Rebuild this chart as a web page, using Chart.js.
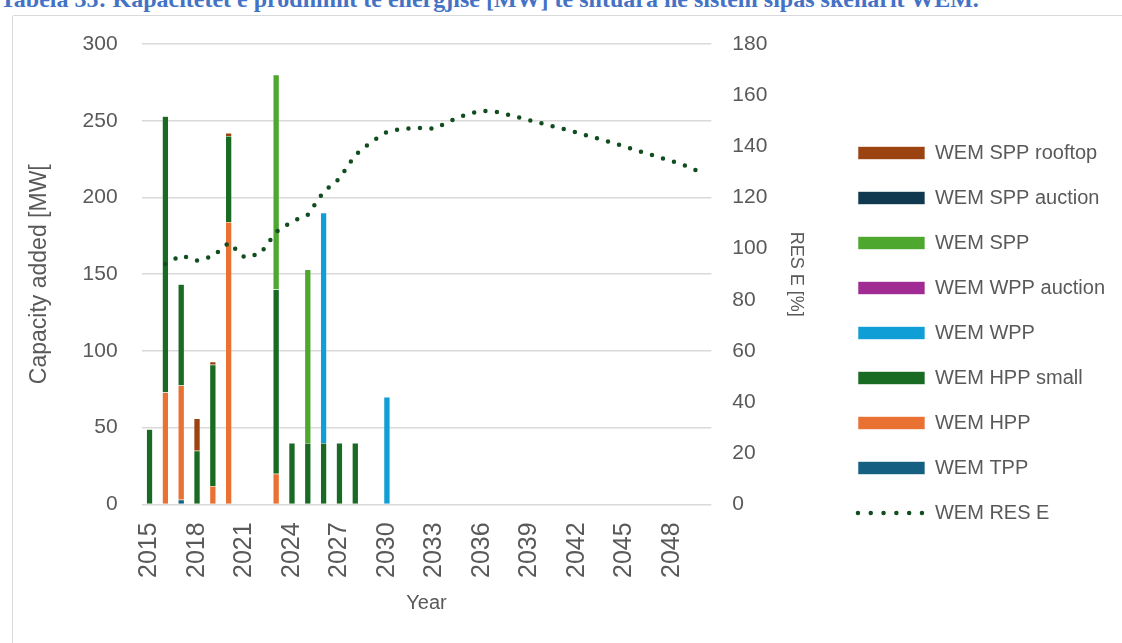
<!DOCTYPE html>
<html>
<head>
<meta charset="utf-8">
<script src="https://cdn.jsdelivr.net/npm/chart.js@4.4.1/dist/chart.umd.min.js"></script>
<style>
  html, body { margin: 0; padding: 0; background: #fff; }
  #page { position: relative; width: 1122px; height: 643px; overflow: hidden; }
  #caption {
    position: absolute; left: 0; top: -14px; white-space: nowrap; line-height: 24px;
    font: bold 24px 'Liberation Serif', serif; color: #4472c4;
  }
  #frame {
    position: absolute; left: 12px; top: 15px; width: 1120px; height: 640px;
    border: 1.5px solid #d9d9d9; border-radius: 2px;
  }
  #wrap { position: absolute; left: 0; top: 0; width: 1122px; height: 643px; }
</style>
</head>
<body>
<div id="page">
  <div id="caption">Tabela 35: Kapacitetet e prodhimit të energjisë [MW] të shtuara në sistem sipas skenarit WEM.</div>
  <div id="frame"></div>
  <div id="wrap"><canvas id="chart"></canvas></div>
</div>
<script>
// --- Data ---

const years = [
  '2015', '2016', '2017', '2018', '2019', '2020', '2021', '2022', '2023', '2024', '2025', '2026',
  '2027', '2028', '2029', '2030', '2031', '2032', '2033', '2034', '2035', '2036', '2037', '2038',
  '2039', '2040', '2041', '2042', '2043', '2044', '2045', '2046', '2047', '2048', '2049', '2050'
];

// capacity added [MW], one entry per year
const wemTpp        = [null, null, 3, null, null, null, null, null, null, null, null, null, null, null, null, null, null, null, null, null, null, null, null, null, null, null, null, null, null, null, null, null, null, null, null, null];
const wemHpp        = [null, 73, 74.5, null, 12, 184, null, null, 20, null, null, null, null, null, null, null, null, null, null, null, null, null, null, null, null, null, null, null, null, null, null, null, null, null, null, null];
const wemHppSmall   = [49, 180, 66, 35, 79, 56, null, null, 120, 40, 40, 40, 40, 40, null, null, null, null, null, null, null, null, null, null, null, null, null, null, null, null, null, null, null, null, null, null];
const wemWpp        = [null, null, null, null, null, null, null, null, null, null, null, 150, null, null, null, 70, null, null, null, null, null, null, null, null, null, null, null, null, null, null, null, null, null, null, null, null];
const wemWppAuction = [null, null, null, null, null, null, null, null, null, null, null, null, null, null, null, null, null, null, null, null, null, null, null, null, null, null, null, null, null, null, null, null, null, null, null, null];
const wemSpp        = [null, null, null, null, null, null, null, null, 140, null, 113, null, null, null, null, null, null, null, null, null, null, null, null, null, null, null, null, null, null, null, null, null, null, null, null, null];
const wemSppAuction = [null, null, null, null, null, null, null, null, null, null, null, null, null, null, null, null, null, null, null, null, null, null, null, null, null, null, null, null, null, null, null, null, null, null, null, null];
const wemSppRooftop = [null, null, null, 21, 2, 2, null, null, null, null, null, null, null, null, null, null, null, null, null, null, null, null, null, null, null, null, null, null, null, null, null, null, null, null, null, null];

// RES E [%]
const wemResE = [
  null, 94, 97.3, 95.4, 97, 102.3, 96.6, 98, 106.5, 110.6, 113.2, 122.2,
  127.4, 136.6, 141.7, 145.6, 146.9, 147.2, 146.9, 149.9, 152.4, 153.9, 153.4, 151.8,
  150.2, 148.6, 147.0, 145.4, 143.6, 141.8, 140.0, 138.0, 136.1, 134.2, 132.2, 129.3
];

const TEXT = '#595959';
const GRID = '#d9d9d9';
const FONT = "'Liberation Sans', Arial, sans-serif";
const RES_COLOR = '#114d1f';

function bar(label, data, color) {
  return {
    type: 'bar', label, data, backgroundColor: color,
    borderColor: 'rgba(255,255,255,0.35)', borderWidth: 0.5,
    yAxisID: 'y', stack: 'cap',
    categoryPercentage: 1, barPercentage: 0.4
  };
}

const datasets = [
  {
    type: 'line', label: 'WEM RES E', data: wemResE, yAxisID: 'y1',
    borderColor: RES_COLOR, backgroundColor: RES_COLOR,
    borderWidth: 4.5, borderDash: [0, 11.5], borderCapStyle: 'round',
    pointRadius: 0, tension: 0, fill: false
  },
  bar('WEM TPP', wemTpp, '#156082'),
  bar('WEM HPP', wemHpp, '#e97132'),
  bar('WEM HPP small', wemHppSmall, '#196b24'),
  bar('WEM WPP', wemWpp, '#0f9ed5'),
  bar('WEM WPP auction', wemWppAuction, '#a02b93'),
  bar('WEM SPP', wemSpp, '#4ea72e'),
  bar('WEM SPP auction', wemSppAuction, '#10384f'),
  bar('WEM SPP rooftop', wemSppRooftop, '#9c4312')
];

new Chart(document.getElementById('chart'), {
  data: { labels: years, datasets },
  options: {
    responsive: true,
    maintainAspectRatio: false,
    animation: false,
    layout: { padding: { top: 44, bottom: 21, left: 22, right: 7 } },
    plugins: {
      tooltip: { enabled: false },
      legend: {
        position: 'right',
        reverse: true,
        maxWidth: 300,
        labels: {
          color: TEXT,
          font: { family: FONT, size: 20 },
          usePointStyle: true,
          pointStyleWidth: 67,
          boxHeight: 13,
          padding: 25,
          generateLabels(chart) {
            const items = Chart.defaults.plugins.legend.labels.generateLabels(chart);
            return items.map(it => {
              if (it.datasetIndex === 0) {
                return Object.assign(it, {
                  pointStyle: 'line', lineDash: [0, 12.8], lineCap: 'round',
                  lineWidth: 4.5, strokeStyle: RES_COLOR, fillStyle: RES_COLOR
                });
              }
              return Object.assign(it, { pointStyle: 'rect', lineWidth: 1, strokeStyle: 'rgba(255,255,255,0.6)', lineDash: [] });
            });
          }
        }
      }
    },
    scales: {
      x: {
        stacked: true,
        offset: true,
        grid: { display: false, drawTicks: false },
        border: { display: false },
        ticks: {
          autoSkip: false,
          minRotation: 90, maxRotation: 90,
          padding: 18,
          color: TEXT,
          font: { family: FONT, size: 25 },
          callback(v, i) { return i % 3 === 0 ? years[i] : ''; }
        },
        title: {
          display: true, text: 'Year', color: TEXT,
          font: { family: FONT, size: 20 },
          padding: { top: -5, bottom: 7 }
        }
      },
      y: {
        stacked: true,
        position: 'left',
        min: 0, max: 300,
        ticks: { stepSize: 50, padding: 24, color: TEXT, font: { family: FONT, size: 21 } },
        grid: { color: GRID, lineWidth: 1.5, drawTicks: false },
        border: { display: false },
        title: {
          display: true, text: 'Capacity added [MW[', color: TEXT,
          font: { family: FONT, size: 23 },
          padding: { top: 4, bottom: 5 }
        }
      },
      y1: {
        position: 'right',
        min: 0, max: 180,
        ticks: { stepSize: 20, padding: 21, color: TEXT, font: { family: FONT, size: 21 } },
        grid: { display: false, drawTicks: false },
        border: { display: false },
        title: {
          display: true, text: 'RES E [%]', color: TEXT,
          font: { family: FONT, size: 18 },
          padding: { top: 26, bottom: -3 }
        }
      }
    }
  }
});
</script>
</body>
</html>
